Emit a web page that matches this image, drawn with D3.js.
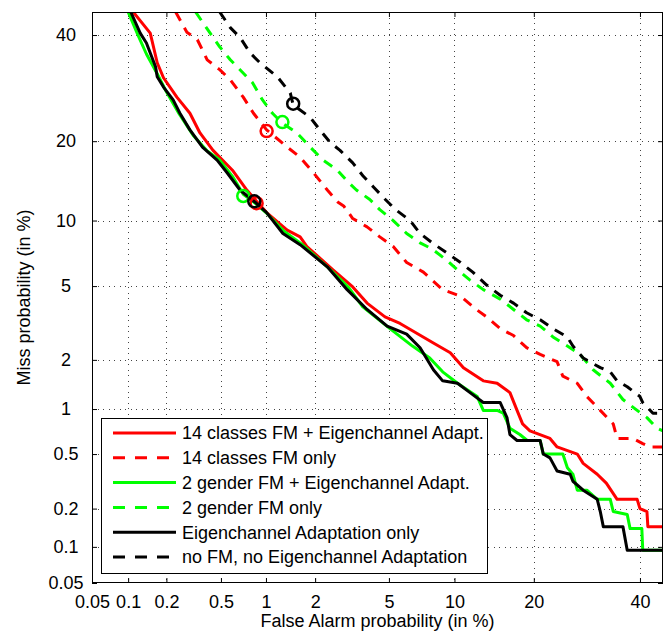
<!DOCTYPE html>
<html>
<head>
<meta charset="utf-8">
<script src="https://cdn.jsdelivr.net/npm/d3@7"></script>
<style>
  html, body { margin: 0; padding: 0; background: #fff; }
  svg { display: block; font-family: "Liberation Sans", Arial, Helvetica, sans-serif; }
</style>
</head>
<body>
<svg id="chart" width="669" height="631"></svg>
<script>
// ---------------- data (percent) ----------------
const xTickValues = [0.05, 0.1, 0.2, 0.5, 1, 2, 5, 10, 20, 40];
const xTickLabels = ["0.05", "0.1", "0.2", "0.5", "1", "2", "5", "10", "20", "40"];
const yTickValues = [0.05, 0.1, 0.2, 0.5, 1, 2, 5, 10, 20, 40];
const yTickLabels = ["0.05", "0.1", "0.2", "0.5", "1", "2", "5", "10", "20", "40"];

const seriesNames = [
  "14 classes FM + Eigenchannel Adapt.",
  "14 classes FM only",
  "2 gender FM + Eigenchannel Adapt.",
  "2 gender FM only",
  "Eigenchannel Adaptation only",
  "no FM, no Eigenchannel Adaptation"
];
const seriesColors = ["#ff0000", "#ff0000", "#00ff00", "#00ff00", "#000000", "#000000"];
const seriesDashed = [false, true, false, true, false, true];

// [false alarm %, miss %]
const redSolid = [[0.11,45],[0.15,40.4],[0.17,34.2],[0.19,31.2],[0.24,27.5],[0.30,24.6],[0.355,21.3],[0.44,18.6],[0.60,15.8],[0.75,13.3],[0.88,11.9],[1.01,10.8],[1.36,9.1],[1.63,8.5],[1.79,7.7],[2.53,6.0],[3.25,4.95],[3.87,4.1],[4.78,3.47],[5.67,3.2],[8.1,2.5],[9.6,2.2],[10.9,1.8],[13.1,1.5],[14.8,1.45],[16.5,1.27],[17.5,0.98],[18.3,0.8],[19.4,0.72],[22.6,0.64],[23.8,0.56],[27.4,0.5],[28.5,0.43],[31.2,0.36],[33.0,0.31],[35.2,0.235],[39.4,0.235],[40,0.2],[41.5,0.19],[41.7,0.145],[45,0.145]];
const redDashed = [[0.235,45],[0.285,40.6],[0.34,39],[0.40,34.8],[0.49,32.8],[0.58,30.8],[0.71,27.5],[0.83,24.6],[1.01,21.8],[1.36,19.1],[1.63,17.6],[1.95,15.5],[2.35,13.3],[2.7,11.9],[2.9,11.5],[3.25,10.2],[3.87,9.4],[4.5,8.5],[5.25,7.7],[6.1,6.5],[7.3,5.85],[8.9,4.8],[10.6,4.45],[12.3,3.8],[13.5,3.47],[15.2,3.0],[17.0,2.75],[18.9,2.35],[21,2.15],[23.8,1.95],[24.8,1.6],[27.4,1.45],[29.2,1.2],[31.8,0.98],[34.4,0.8],[35.2,0.64],[38.5,0.64],[40.6,0.59],[42.2,0.56],[45,0.56]];
const greenSolid = [[0.1,45],[0.12,40],[0.14,36],[0.17,32],[0.2,28.5],[0.25,24.5],[0.32,20.8],[0.4,18.5],[0.49,17.2],[0.6,15],[0.71,12.8],[0.85,11.8],[1.0,10.8],[1.3,9.0],[1.7,7.8],[2.4,6.1],[3.1,4.9],[3.65,3.95],[5.06,3.0],[6.5,2.4],[7.8,2.05],[8.9,1.7],[10.3,1.45],[12.4,1.2],[13.1,0.98],[14.8,0.98],[15.6,0.94],[16.5,0.75],[17.9,0.68],[19.0,0.62],[21.0,0.62],[21.5,0.5],[24.8,0.5],[25.6,0.4],[26.6,0.36],[27.4,0.275],[29.2,0.275],[31.2,0.235],[33.8,0.235],[34.4,0.19],[37.3,0.18],[37.9,0.14],[40.4,0.14],[40.6,0.094],[45,0.094]];
const greenDashed = [[0.33,45],[0.42,40.4],[0.49,37.5],[0.58,34.8],[0.675,32.8],[0.82,30.2],[0.95,27],[1.1,24.6],[1.27,22.9],[1.56,21.3],[1.87,19.1],[2.22,17.2],[2.68,15.8],[3.03,14.4],[3.4,13.3],[4.0,12.2],[4.5,11.1],[5.25,10.0],[6.1,8.8],[7.05,8.0],[8.0,7.5],[9.2,6.7],[10.3,6.0],[11.6,5.35],[13.1,4.8],[15.2,4.3],[17.0,3.8],[18.9,3.35],[21,3.1],[23.1,2.7],[25.6,2.4],[27.9,2.15],[30.4,1.75],[33.8,1.45],[36.4,1.15],[39.4,0.98],[41.5,0.88],[43.7,0.75],[45,0.72]];
const blackSolid = [[0.105,45],[0.125,40.4],[0.14,38.3],[0.165,33.4],[0.17,31.4],[0.19,29.4],[0.225,27],[0.253,24.6],[0.30,21.8],[0.37,19.1],[0.47,17.2],[0.55,15.5],[0.675,13.3],[0.85,11.9],[1.01,10.8],[1.28,8.8],[1.63,7.85],[2.35,6.2],[3.03,4.8],[3.87,3.8],[4.9,3.1],[6.1,2.8],[7.05,2.35],[8.1,1.75],[8.9,1.5],[10.3,1.45],[11.6,1.27],[13.1,1.1],[15.2,1.1],[16.1,0.88],[16.5,0.68],[17.5,0.62],[21.0,0.62],[21.5,0.5],[22.6,0.47],[23.8,0.38],[26.1,0.36],[26.6,0.32],[28.5,0.275],[31.2,0.235],[31.8,0.19],[32.4,0.145],[36.4,0.145],[37.3,0.094],[45,0.094]];
const blackDashed = [[0.49,45],[0.58,41.6],[0.675,39.5],[0.79,36.2],[0.915,34.2],[1.18,31.4],[1.42,28.3],[1.48,26.1],[1.87,23.9],[2.13,21.8],[2.44,19.8],[2.77,18.6],[3.25,16.8],[3.7,15.0],[4.2,13.6],[4.8,12.2],[5.4,11.1],[6.33,10.0],[7.05,8.8],[8.0,8.0],[9.2,7.25],[10.6,6.5],[11.9,5.85],[13.5,5.06],[15.2,4.5],[17.0,4.1],[18.9,3.65],[21,3.35],[23.1,3.0],[25.6,2.7],[26.6,2.4],[28.5,2.05],[31.8,1.8],[33.8,1.7],[35.2,1.5],[37.3,1.38],[40,1.2],[40.6,1.1],[42.8,0.94],[45,0.94]];

// operating-point markers (circles), one per series
const markerFA   = [0.87, 1.01, 0.71, 1.27, 0.84, 1.48];
const markerMiss = [11.8, 21.6, 12.6, 23.1, 12.0, 26.3];

const seriesData = [redSolid, redDashed, greenSolid, greenDashed, blackSolid, blackDashed];

// ---------------- probit (normal deviate) transform ----------------
function probit(p) {
  const a = [-3.969683028665376e+01, 2.209460984245205e+02, -2.759285104469687e+02, 1.383577518672690e+02, -3.066479806614716e+01, 2.506628277459239e+00];
  const b = [-5.447609879822406e+01, 1.615858368580409e+02, -1.556989798598866e+02, 6.680131188771972e+01, -1.328068155288572e+01];
  const c = [-7.784894002430293e-03, -3.223964580411365e-01, -2.400758277161838e+00, -2.549732539343734e+00, 4.374664141464968e+00, 2.938163982698783e+00];
  const d = [7.784695709041462e-03, 3.224671290700398e-01, 2.445134137142996e+00, 3.754408661907416e+00];
  const pl = 0.02425, ph = 1 - pl;
  let q, r;
  if (p < pl) {
    q = Math.sqrt(-2 * Math.log(p));
    return (((((c[0]*q+c[1])*q+c[2])*q+c[3])*q+c[4])*q+c[5]) / ((((d[0]*q+d[1])*q+d[2])*q+d[3])*q+1);
  } else if (p <= ph) {
    q = p - 0.5; r = q * q;
    return (((((a[0]*r+a[1])*r+a[2])*r+a[3])*r+a[4])*r+a[5])*q / (((((b[0]*r+b[1])*r+b[2])*r+b[3])*r+b[4])*r+1);
  } else {
    q = Math.sqrt(-2 * Math.log(1 - p));
    return -(((((c[0]*q+c[1])*q+c[2])*q+c[3])*q+c[4])*q+c[5]) / ((((d[0]*q+d[1])*q+d[2])*q+d[3])*q+1);
  }
}
const pz = v => probit(v / 100);

// ---------------- layout ----------------
const L = 92, R = 663, T = 12, B = 583;
const svg = d3.select("#chart");

const xS = d3.scaleLinear().domain([pz(0.05), pz(45)]).range([L, R]);
const yS = d3.scaleLinear().domain([pz(0.05), pz(45)]).range([B, T]);
const X = v => xS(pz(v));
const Y = v => yS(pz(v));

// grid
const grid = svg.append("g").attr("stroke", "#444").attr("stroke-width", 1)
  .attr("stroke-dasharray", "1,4.5").attr("shape-rendering", "crispEdges");
xTickValues.filter(v => v > 0.05).forEach(v => {
  grid.append("line").attr("x1", Math.round(X(v)) + 0.5).attr("x2", Math.round(X(v)) + 0.5).attr("y1", T).attr("y2", B);
});
yTickValues.filter(v => v > 0.05).forEach(v => {
  grid.append("line").attr("y1", Math.round(Y(v)) + 0.5).attr("y2", Math.round(Y(v)) + 0.5).attr("x1", L).attr("x2", R);
});

// axes (ticks inside)
const xTicksZ = xTickValues.map(pz);
const yTicksZ = yTickValues.map(pz);
const axB = svg.append("g").attr("transform", `translate(0,${B})`)
  .call(d3.axisBottom(xS).tickValues(xTicksZ).tickSizeInner(-5).tickSizeOuter(0).tickPadding(12)
    .tickFormat((d, i) => xTickLabels[i]));
const axT = svg.append("g").attr("transform", `translate(0,${T})`)
  .call(d3.axisTop(xS).tickValues(xTicksZ).tickSizeInner(-5).tickSizeOuter(0).tickFormat(""));
const axL = svg.append("g").attr("transform", `translate(${L},0)`)
  .call(d3.axisLeft(yS).tickValues(yTicksZ).tickSizeInner(-5).tickSizeOuter(0)
    .tickFormat((d, i) => yTickLabels[i]));
const axR = svg.append("g").attr("transform", `translate(${R},0)`)
  .call(d3.axisRight(yS).tickValues(yTicksZ).tickSizeInner(-5).tickSizeOuter(0).tickFormat(""));
[axB, axT, axL, axR].forEach(g => {
  g.select(".domain").remove();
  g.selectAll("line").attr("stroke", "#000");
  g.selectAll("text").attr("font-size", 18).attr("fill", "#000").attr("font-family", "Liberation Sans, Arial, sans-serif");
});
axB.selectAll("text").attr("y", 12);
axL.selectAll("text").attr("text-anchor", "middle").attr("x", -26);

// curves
const clip = svg.append("clipPath").attr("id", "clip").append("rect")
  .attr("x", L).attr("y", T).attr("width", R - L).attr("height", B - T);
const line = d3.line().x(d => X(d[0])).y(d => Y(d[1]));
const curves = svg.append("g").attr("clip-path", "url(#clip)");
seriesData.forEach((data, i) => {
  curves.append("path").datum(data).attr("d", line).attr("fill", "none")
    .attr("stroke", seriesColors[i]).attr("stroke-width", 3)
    .attr("stroke-linejoin", "round")
    .attr("stroke-dasharray", seriesDashed[i] ? "10,8" : null);
});
markerFA.forEach((v, i) => {
  curves.append("circle").attr("cx", X(v)).attr("cy", Y(markerMiss[i])).attr("r", 6)
    .attr("fill", "none").attr("stroke", seriesColors[i]).attr("stroke-width", 2.5);
});

// frame
svg.append("rect").attr("x", L + 0.5).attr("y", T + 0.5).attr("width", R - L - 1).attr("height", B - T - 1)
  .attr("fill", "none").attr("stroke", "#000").attr("stroke-width", 1);

// axis titles
svg.append("text").attr("x", (L + R) / 2).attr("y", 627).attr("text-anchor", "middle")
  .attr("font-size", 18).text("False Alarm probability (in %)");
svg.append("text").attr("transform", `translate(30,${(T + B) / 2}) rotate(-90)`).attr("text-anchor", "middle")
  .attr("font-size", 18).text("Miss probability (in %)");

// legend
const lg = svg.append("g");
lg.append("rect").attr("x", 101.5).attr("y", 418.5).attr("width", 386).attr("height", 155)
  .attr("fill", "#fff").attr("stroke", "#000").attr("stroke-width", 1);
seriesNames.forEach((name, i) => {
  const yy = 433 + i * 24.8;
  lg.append("line").attr("x1", 113).attr("x2", 176).attr("y1", yy).attr("y2", yy)
    .attr("stroke", seriesColors[i]).attr("stroke-width", 3)
    .attr("stroke-dasharray", seriesDashed[i] ? "12,10" : null);
  lg.append("text").attr("x", 182).attr("y", yy).attr("dy", "0.35em")
    .attr("font-size", 18).text(name);
});
</script>
</body>
</html>
